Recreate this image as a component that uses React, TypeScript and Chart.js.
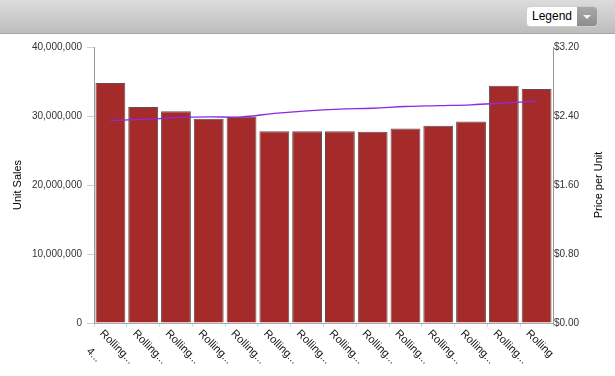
import React, { useEffect, useRef } from "react";
import { Chart, registerables } from "chart.js";

Chart.register(...registerables);

const categories: string[][] = [
  ["Rolling...", "4..."],
  ["Rolling..."],
  ["Rolling..."],
  ["Rolling..."],
  ["Rolling..."],
  ["Rolling..."],
  ["Rolling..."],
  ["Rolling..."],
  ["Rolling..."],
  ["Rolling..."],
  ["Rolling..."],
  ["Rolling..."],
  ["Rolling..."],
  ["Rolling"],
];

const unitSales: number[] = [
  34800000, 31300000, 30700000, 29600000, 29900000, 27800000, 27800000,
  27800000, 27700000, 28200000, 28600000, 29200000, 34400000, 33900000,
];

const pricePerUnit: number[] = [
  2.35, 2.36, 2.38, 2.39, 2.39, 2.43, 2.46, 2.48, 2.49, 2.51, 2.52, 2.53,
  2.55, 2.57,
];

const leftTitle = "Unit Sales";
const rightTitle = "Price per Unit";
const FONT = "'Liberation Sans', Arial, sans-serif";

const labelPlugin = {
  id: "customLabels",
  afterDraw(chart: any) {
    const { ctx, chartArea } = chart;
    const xs = chart.scales.x;
    ctx.save();
    ctx.fillStyle = "#111";
    ctx.font = `11px ${FONT}`;
    ctx.textAlign = "left";
    ctx.textBaseline = "top";
    categories.forEach((lines, i) => {
      const x = xs.getPixelForTick(i);
      ctx.save();
      ctx.translate(x - 5, chartArea.bottom + 5);
      ctx.rotate(Math.PI / 4);
      lines.forEach((t, j) => {
        ctx.fillText(t, j * 3, j * 22);
      });
      ctx.restore();
    });
    const cy = (chartArea.top + chartArea.bottom) / 2;
    ctx.textAlign = "center";
    ctx.textBaseline = "middle";
    ctx.fillStyle = "#000";
    ctx.save();
    ctx.translate(18, cy);
    ctx.rotate(-Math.PI / 2);
    ctx.fillText(leftTitle, 0, 0);
    ctx.restore();
    ctx.save();
    ctx.translate(599, cy);
    ctx.rotate(-Math.PI / 2);
    ctx.fillText(rightTitle, 0, 0);
    ctx.restore();
    ctx.restore();
  },
};

function ChartView() {
  const ref = useRef<HTMLCanvasElement>(null);
  useEffect(() => {
    if (!ref.current) return;
    const chart = new Chart(ref.current, {
      type: "bar",
      data: {
        labels: categories.map((c) => c.join(" ")),
        datasets: [
          {
            type: "line",
            label: "Price per Unit",
            data: pricePerUnit,
            yAxisID: "y1",
            borderColor: "#8a2be2",
            borderWidth: 1.3,
            pointRadius: 0,
            tension: 0.4,
            order: 0,
          } as any,
          {
            type: "bar",
            label: "Unit Sales",
            data: unitSales,
            yAxisID: "y",
            backgroundColor: "#a52a2a",
            borderColor: "#5e5050",
            borderWidth: 1,
            categoryPercentage: 1,
            barPercentage: 0.91,
            order: 1,
          },
        ],
      },
      options: {
        animation: false,
        responsive: false,
        maintainAspectRatio: false,
        layout: { padding: { top: 47, left: 0, right: 0, bottom: 0 } },
        plugins: {
          legend: { display: false },
          tooltip: { enabled: false },
        },
        scales: {
          x: {
            offset: true,
            ticks: { display: false },
            grid: {
              offset: true,
              drawOnChartArea: false,
              drawTicks: true,
              tickLength: 4,
              color: "#cfdbe3",
            },
            border: { display: true, color: "#aaaaaa" },
            afterFit: (s: any) => {
              s.height = 53;
            },
          },
          y: {
            position: "left",
            min: 0,
            max: 40000000,
            ticks: {
              stepSize: 10000000,
              padding: 5,
              color: "#333",
              font: { size: 10, family: FONT },
              callback: (v: any) => Number(v).toLocaleString("en-US"),
            },
            grid: {
              drawOnChartArea: false,
              drawTicks: true,
              tickLength: 7,
              color: "#d0d0d0",
            },
            border: { display: true, color: "#999999" },
            afterFit: (s: any) => {
              s.width = 94;
            },
          },
          y1: {
            position: "right",
            min: 0,
            max: 3.2,
            ticks: {
              stepSize: 0.8,
              padding: 1,
              color: "#333",
              font: { size: 10, family: FONT },
              callback: (v: any) => "$" + Number(v).toFixed(2),
            },
            grid: {
              drawOnChartArea: false,
              drawTicks: false,
            },
            border: { display: true, color: "#999999" },
            afterFit: (s: any) => {
              s.width = 62;
            },
          },
        },
      },
      plugins: [labelPlugin],
    });
    return () => chart.destroy();
  }, []);
  return (
    <canvas
      ref={ref}
      width={615}
      height={376}
      style={{ position: "absolute", left: 0, top: 0, width: 615, height: 376 }}
    />
  );
}

export default function App() {
  return (
    <div
      style={{
        position: "fixed",
        left: 0,
        top: 0,
        width: 615,
        height: 376,
        background: "#ffffff",
        overflow: "hidden",
        fontFamily: FONT,
      }}
    >
      <ChartView />
      <div
        style={{
          position: "absolute",
          left: 0,
          top: 0,
          width: 615,
          height: 33,
          background: "linear-gradient(#dcdcdc, #bdbdbd)",
          borderBottom: "1px solid #a6a6a6",
        }}
      >
        <div
          style={{
            position: "absolute",
            left: 526,
            top: 6,
            width: 72,
            height: 21,
            background: "#ffffff",
            borderRadius: 4,
            boxSizing: "border-box",
            border: "1px solid #cfcfcf",
            overflow: "hidden",
          }}
        >
          <span
            style={{
              position: "absolute",
              left: 5,
              top: 0,
              lineHeight: "19px",
              fontSize: 12,
              color: "#000",
            }}
          >
            Legend
          </span>
          <div
            style={{
              position: "absolute",
              right: 0,
              top: 0,
              width: 20,
              height: "100%",
              background: "linear-gradient(#a9a9a9, #8c8c8c)",
            }}
          >
            <div
              style={{
                position: "absolute",
                left: 6,
                top: 8,
                width: 0,
                height: 0,
                borderLeft: "4px solid transparent",
                borderRight: "4px solid transparent",
                borderTop: "4px solid #f4f4f4",
              }}
            />
          </div>
        </div>
      </div>
    </div>
  );
}
